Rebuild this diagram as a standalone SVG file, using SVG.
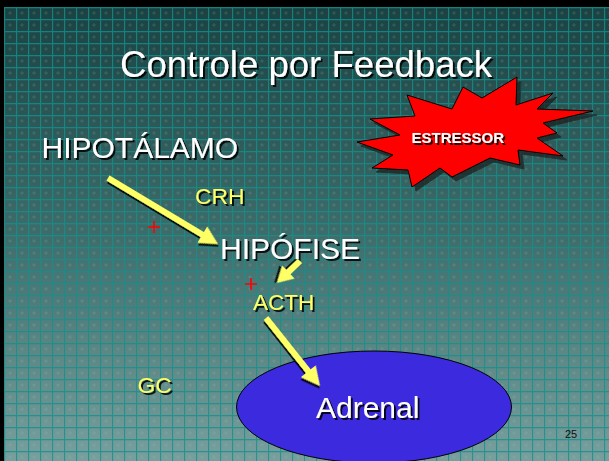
<svg xmlns="http://www.w3.org/2000/svg" width="609" height="461" viewBox="0 0 609 461">
<defs>
<linearGradient id="bg" x1="0" y1="0" x2="0" y2="1">
<stop offset="0" stop-color="#1a4242"/>
<stop offset="0.5" stop-color="#3d6d6b"/>
<stop offset="1" stop-color="#779f9d"/>
</linearGradient>
<pattern id="grid" width="12" height="12" patternUnits="userSpaceOnUse" x="4" y="7">
<path d="M0,0.5 H12 M0.5,0 V12" stroke="#14908c" stroke-width="1.3" opacity="0.8" fill="none"/>
<path d="M6,4 V8 M4,6 H8" stroke="#a8b8b8" stroke-width="0.8" opacity="0.2" fill="none"/>
</pattern>
<filter id="ts" x="-10%" y="-20%" width="130%" height="160%">
<feDropShadow dx="2" dy="2" stdDeviation="0.3" flood-color="#000" flood-opacity="0.85"/>
</filter>
<filter id="ss" x="-10%" y="-10%" width="130%" height="140%">
<feDropShadow dx="4" dy="4" stdDeviation="0.5" flood-color="#1a1a1a" flood-opacity="0.7"/>
</filter>
<style>
.t{font-family:"Liberation Sans",Arial,sans-serif;filter:url(#ts)}
.w{fill:#ffffff}
.y{fill:#ffff66}
.arr{fill:#ffff66;filter:url(#ts)}
.plus{stroke:#ff0000;stroke-width:1.6;fill:none}
</style>
</defs>
<rect x="0" y="0" width="609" height="461" fill="#000"/>
<rect x="4" y="7" width="605" height="454" fill="url(#bg)"/>
<rect x="4" y="7" width="605" height="454" fill="url(#grid)"/>

<text class="t w" x="120" y="77" font-size="36.6">Controle por Feedback</text>

<g id="estressor">
<polygon points="357,142 400,135 370,119 415,116 407,95 452,109 463,87 482,98 517,77 516,105 553,93 537,109 593,111 543,123 557,133 537,138 563,156 518,150 520,165 490,158 452,177 440,168 412,187 408,170 372,168 393,155" fill="#ff0000" stroke="#000" stroke-width="1" filter="url(#ss)"/>
<text class="t w" x="411.5" y="143" font-size="15" font-weight="bold">ESTRESSOR</text>
</g>

<g id="hipotalamo">
<text class="t w" x="41.5" y="158" font-size="30">HIPOTÁLAMO</text>
</g>
<g id="crh">
<text class="t y" x="195" y="204" font-size="22.8">CRH</text>
</g>
<g id="hipofise">
<text class="t w" x="220" y="259" font-size="30">HIPÓFISE</text>
</g>
<g id="acth">
<text class="t y" x="253" y="310" font-size="22.5">ACTH</text>
</g>
<g id="gc">
<text class="t y" x="137.5" y="393" font-size="22.8">GC</text>
</g>
<g id="adrenal">
<ellipse cx="374" cy="407" rx="137.5" ry="56" fill="#3c2ade" stroke="#000" stroke-width="1"/>
<text class="t w" x="316" y="417.5" font-size="30">Adrenal</text>
</g>

<g id="connectors">
<path class="arr" transform="translate(108,178) rotate(30.96)" d="M0,-3 L110,-3 L110,-9.5 L128.3,0 L110,9.5 L110,3 L0,3 Z"/>
<path class="arr" transform="translate(300,261) rotate(136.3)" d="M0,-3 L16,-3 L16,-9 L31.8,0 L16,9 L16,3 L0,3 Z"/>
<path class="arr" transform="translate(266,318) rotate(51.5)" d="M0,-3 L68,-3 L68,-9.5 L86.8,0 L68,9.5 L68,3 L0,3 Z"/>
<path class="plus" d="M148,227 H160 M154,221 V233"/>
<path class="plus" d="M245,284 H257 M251,278 V290"/>
</g>

<text x="565" y="437.5" font-family="Liberation Sans,Arial,sans-serif" font-size="11" fill="#111">25</text>
</svg>
